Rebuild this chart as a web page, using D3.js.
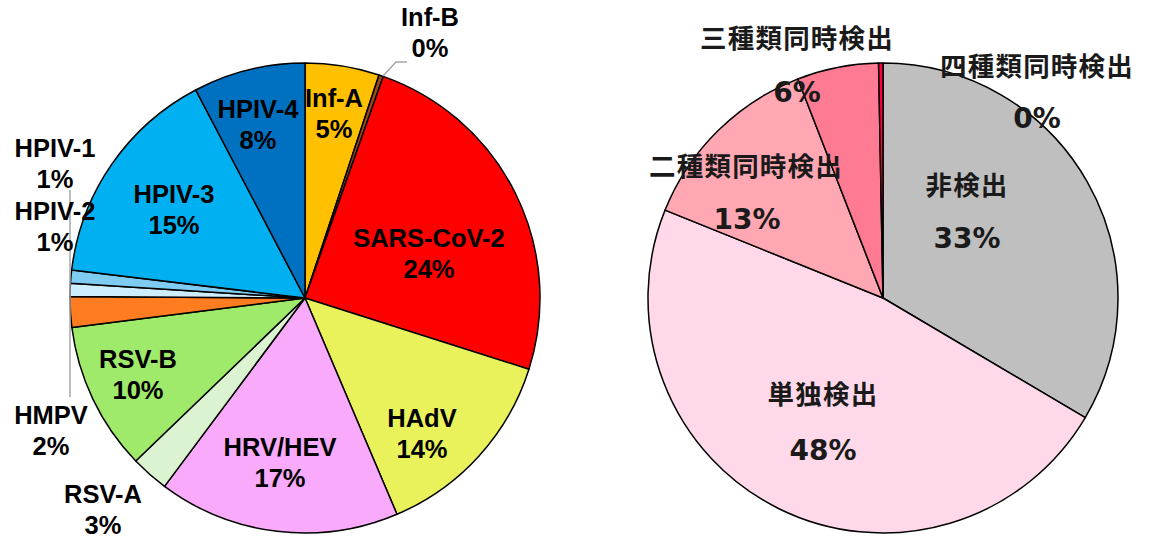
<!DOCTYPE html>
<html>
<head>
<meta charset="utf-8">
<script src="https://cdn.jsdelivr.net/npm/d3@7"></script>
<style>
  body { margin: 0; background: #fff; }
</style>
</head>
<body>
<script>
// data - left pie (virus share, %)
const virusNames = ["Inf-A", "Inf-B", "SARS-CoV-2", "HAdV", "HRV/HEV", "RSV-A", "RSV-B", "HMPV", "HPIV-1", "HPIV-2", "HPIV-3", "HPIV-4"];
const virusValues = [5.1, 0.3, 24.5, 13.7, 16.6, 2.6, 10.2, 2.1, 0.9, 0.9, 15.4, 7.7];
const virusLabels = ["5%", "0%", "24%", "14%", "17%", "3%", "10%", "2%", "1%", "1%", "15%", "8%"];
const virusColors = ["#FFC000", "#9C4A1A", "#FF0000", "#E9F25A", "#FAAAFA", "#DBF3D0", "#9FEA6B", "#FF7C21", "#CCEEFF", "#7FCCF3", "#00B0F0", "#0070C0"];

// data - right pie (detection count, %)
const detectNames = ["非検出", "単独検出", "二種類同時検出", "三種類同時検出", "四種類同時検出"];
const detectValues = [33.5, 47.6, 13.0, 5.6, 0.3];
const detectLabels = ["33%", "48%", "13%", "6%", "0%"];
const detectColors = ["#BFBFBF", "#FFD9E9", "#FFA7B3", "#FF7A93", "#FF0040"];

const width = 1151;
const height = 538;
const radius = 235;

const svg = d3.select("body")
    .append("svg")
    .attr("width", width)
    .attr("height", height);

const pie = d3.pie().sort(null).value(d => d.v);
const arc = d3.arc().innerRadius(0).outerRadius(radius);

//left pie
const leftData = virusNames.map((n, i) => ({name: n, v: virusValues[i], label: virusLabels[i], color: virusColors[i]}));
const left = svg.append("g").attr("transform", "translate(305,298)");
left.selectAll("path")
    .data(pie(leftData))
    .enter()
    .append("path")
    .attr("d", arc)
    .attr("fill", d => d.data.color)
    .attr("stroke", "#000")
    .attr("stroke-width", 1.5)
    .attr("stroke-linejoin", "round");

// label spots (name baseline; percent goes one line below)
const leftPos = {
    "Inf-A": [334, 107], "Inf-B": [430, 26], "SARS-CoV-2": [429, 247], "HAdV": [422, 427],
    "HRV/HEV": [280, 456], "RSV-A": [103, 503], "RSV-B": [138, 368], "HMPV": [51, 424],
    "HPIV-1": [55, 157], "HPIV-2": [55, 220], "HPIV-3": [174, 203], "HPIV-4": [258, 118]
};

// leader lines
svg.append("path")
    .attr("d", "M407,62 L396,62 L383,76")
    .attr("fill", "none").attr("stroke", "#A6A6A6").attr("stroke-width", 1.5);
svg.append("path")
    .attr("d", "M70,190 L70,397")
    .attr("fill", "none").attr("stroke", "#A6A6A6").attr("stroke-width", 1.5);

leftData.forEach(d => {
    const p = leftPos[d.name];
    const t = svg.append("text")
        .attr("x", p[0]).attr("y", p[1])
        .attr("text-anchor", "middle")
        .attr("font-family", "'Liberation Sans', Arial, sans-serif")
        .attr("font-weight", "bold")
        .attr("font-size", 25.5)
        .attr("fill", "#000");
    t.append("tspan").attr("x", p[0]).text(d.name);
    t.append("tspan").attr("x", p[0]).attr("dy", 30.5).text(d.label);
});

//right pie
const rightData = detectNames.map((n, i) => ({name: n, v: detectValues[i], label: detectLabels[i], color: detectColors[i]}));
const right = svg.append("g").attr("transform", "translate(883,298)");
right.selectAll("path")
    .data(pie(rightData))
    .enter()
    .append("path")
    .attr("d", arc)
    .attr("fill", d => d.data.color)
    .attr("stroke", "#000")
    .attr("stroke-width", 1.5)
    .attr("stroke-linejoin", "round");

// [name center x, name center y, pct center x, pct center y]
const rightPos = {
    "非検出": [967, 183, 967, 238],
    "単独検出": [823, 392, 823, 450],
    "二種類同時検出": [746, 164, 747, 219],
    "三種類同時検出": [797, 36, 797, 92],
    "四種類同時検出": [1037, 64, 1037, 118]
};

rightData.forEach(d => {
    const p = rightPos[d.name];
    svg.append("text")
        .attr("x", p[0]).attr("y", p[1])
        .attr("text-anchor", "middle")
        .attr("dominant-baseline", "central")
        .attr("font-family", "'Noto Sans CJK JP', sans-serif")
        .attr("font-weight", "bold")
        .attr("font-size", 26.5)
        .attr("letter-spacing", 1.2)
        .attr("fill", "#1a1a1a")
        .text(d.name);
    svg.append("text")
        .attr("x", p[2]).attr("y", p[3])
        .attr("text-anchor", "middle")
        .attr("dominant-baseline", "central")
        .attr("font-family", "'DejaVu Sans', sans-serif")
        .attr("font-weight", "bold")
        .attr("font-size", 28)
        .attr("fill", "#1a1a1a")
        .text(d.label);
});
</script>
</body>
</html>
